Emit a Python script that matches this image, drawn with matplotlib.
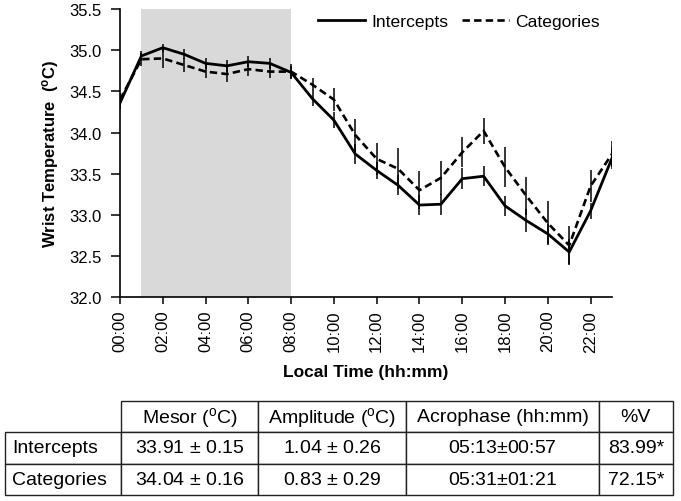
import matplotlib
matplotlib.use("Agg")
import matplotlib.pyplot as plt
import numpy as np

plt.rcParams['font.family'] = ['Liberation Sans', 'DejaVu Sans']
plt.rcParams['mathtext.fontset'] = 'custom'
plt.rcParams['mathtext.rm'] = 'Liberation Sans'
plt.rcParams['mathtext.bf'] = 'Liberation Sans:bold'
plt.rcParams['mathtext.it'] = 'Liberation Sans:italic'

# ---- data ----
hours = list(range(24))
intercepts = [34.36, 34.93, 35.03, 34.95, 34.84, 34.81, 34.86, 34.84, 34.73, 34.41,
              34.15, 33.74, 33.54, 33.36, 33.12, 33.13, 33.44, 33.47, 33.11, 32.93,
              32.77, 32.55, 33.05, 33.69]
intercepts_err = [0.08, 0.06, 0.05, 0.06, 0.07, 0.07, 0.07, 0.07, 0.08, 0.09,
                  0.10, 0.12, 0.10, 0.12, 0.12, 0.13, 0.13, 0.12, 0.12, 0.14,
                  0.12, 0.16, 0.10, 0.13]
categories = [34.40, 34.89, 34.90, 34.82, 34.74, 34.71, 34.77, 34.74, 34.74, 34.58,
              34.40, 33.97, 33.68, 33.56, 33.30, 33.45, 33.76, 34.02, 33.58, 33.23,
              32.90, 32.63, 33.35, 33.74]
categories_err = [0.08, 0.08, 0.12, 0.08, 0.08, 0.10, 0.08, 0.08, 0.09, 0.08,
                  0.14, 0.20, 0.19, 0.25, 0.23, 0.21, 0.18, 0.16, 0.24, 0.23,
                  0.27, 0.23, 0.19, 0.16]
shade_start, shade_end = 1, 8
xtick_pos = list(range(0, 24, 2))
xtick_labels = ["%02d:00" % h for h in xtick_pos]
ytick_pos = [32.0, 32.5, 33.0, 33.5, 34.0, 34.5, 35.0, 35.5]

table_rows = ["Intercepts", "Categories"]
table_cols = ["Mesor ($^{\\mathrm{o}}$C)", "Amplitude ($^{\\mathrm{o}}$C)",
              "Acrophase (hh:mm)", "%V"]
table_cells = [["33.91 $\\pm$ 0.15", "1.04 $\\pm$ 0.26", "05:13$\\pm$00:57", "83.99*"],
               ["34.04 $\\pm$ 0.16", "0.83 $\\pm$ 0.29", "05:31$\\pm$01:21", "72.15*"]]

# ---- figure ----
W, H = 681, 502
fig = plt.figure(figsize=(W / 100, H / 100), dpi=100)
ax = fig.add_axes([120 / W, 1 - 298.3 / H, (612 - 120) / W, (298.3 - 10) / H])

ax.axvspan(shade_start, shade_end, color='#d9d9d9', lw=0, zorder=0)

ax.errorbar(hours, intercepts, yerr=intercepts_err, color='black', lw=2.0,
            elinewidth=1.1, capsize=0, label='Intercepts', zorder=3)
ax.errorbar(hours, categories, yerr=categories_err, color='black', lw=1.9,
            ls=(0, (2.8, 1.6)), elinewidth=1.1, capsize=0, label='Categories', zorder=3)

ax.set_xlim(0, 23)
ax.set_ylim(32.0, 35.5)
ax.set_xticks(xtick_pos)
ax.set_xticklabels(xtick_labels, rotation=90, fontsize=12)
ax.set_yticks(ytick_pos)
ax.set_yticklabels(["%.1f" % v for v in ytick_pos], fontsize=12)
ax.tick_params(axis='y', length=6.5, width=1.1, pad=7)
ax.tick_params(axis='x', length=5, width=1.1, pad=4)
for s in ['top', 'right']:
    ax.spines[s].set_visible(False)
for s in ['left', 'bottom']:
    ax.spines[s].set_linewidth(1.2)

ax.set_ylabel("Wrist Temperature  ($^{\\mathbf{o}}$C)", fontsize=12, fontweight='bold', labelpad=6)
ax.set_xlabel("Local Time (hh:mm)", fontsize=12.5, fontweight='bold', labelpad=9)

h, l = ax.get_legend_handles_labels()
h = [hh[0] for hh in h]
leg = ax.legend(h, l, loc='center', bbox_to_anchor=(459 / W, 1 - 22 / H),
                bbox_transform=fig.transFigure, ncol=2, frameon=False, fontsize=12.6,
                handlelength=2.7, handletextpad=0.35, columnspacing=0.8, borderpad=0)

# ---- table ----
tax = fig.add_axes([0, 0, 1, 1])
tax.set_axis_off()
cell_text = [[""] + table_cols] + [[r] + c for r, c in zip(table_rows, table_cells)]
col_w = np.array([115.7, 137.6, 147.7, 193.0, 73.7])
tb = tax.table(cellText=cell_text, colWidths=list(col_w / col_w.sum()), cellLoc='center',
               bbox=[5 / W, 1 - 495.7 / H, 667.7 / W, 93.4 / H])
tb.auto_set_font_size(False)
tb.set_fontsize(14)
for (r, c), cell in tb.get_celld().items():
    cell.set_edgecolor('#222222')
    cell.set_linewidth(1.0)
    if c == 0:
        cell.get_text().set_horizontalalignment('left')
        cell.PAD = 0.06
if (0, 0) in tb.get_celld():
    tb.get_celld()[(0, 0)].visible_edges = ''

fig.savefig("out.png", dpi=100)
